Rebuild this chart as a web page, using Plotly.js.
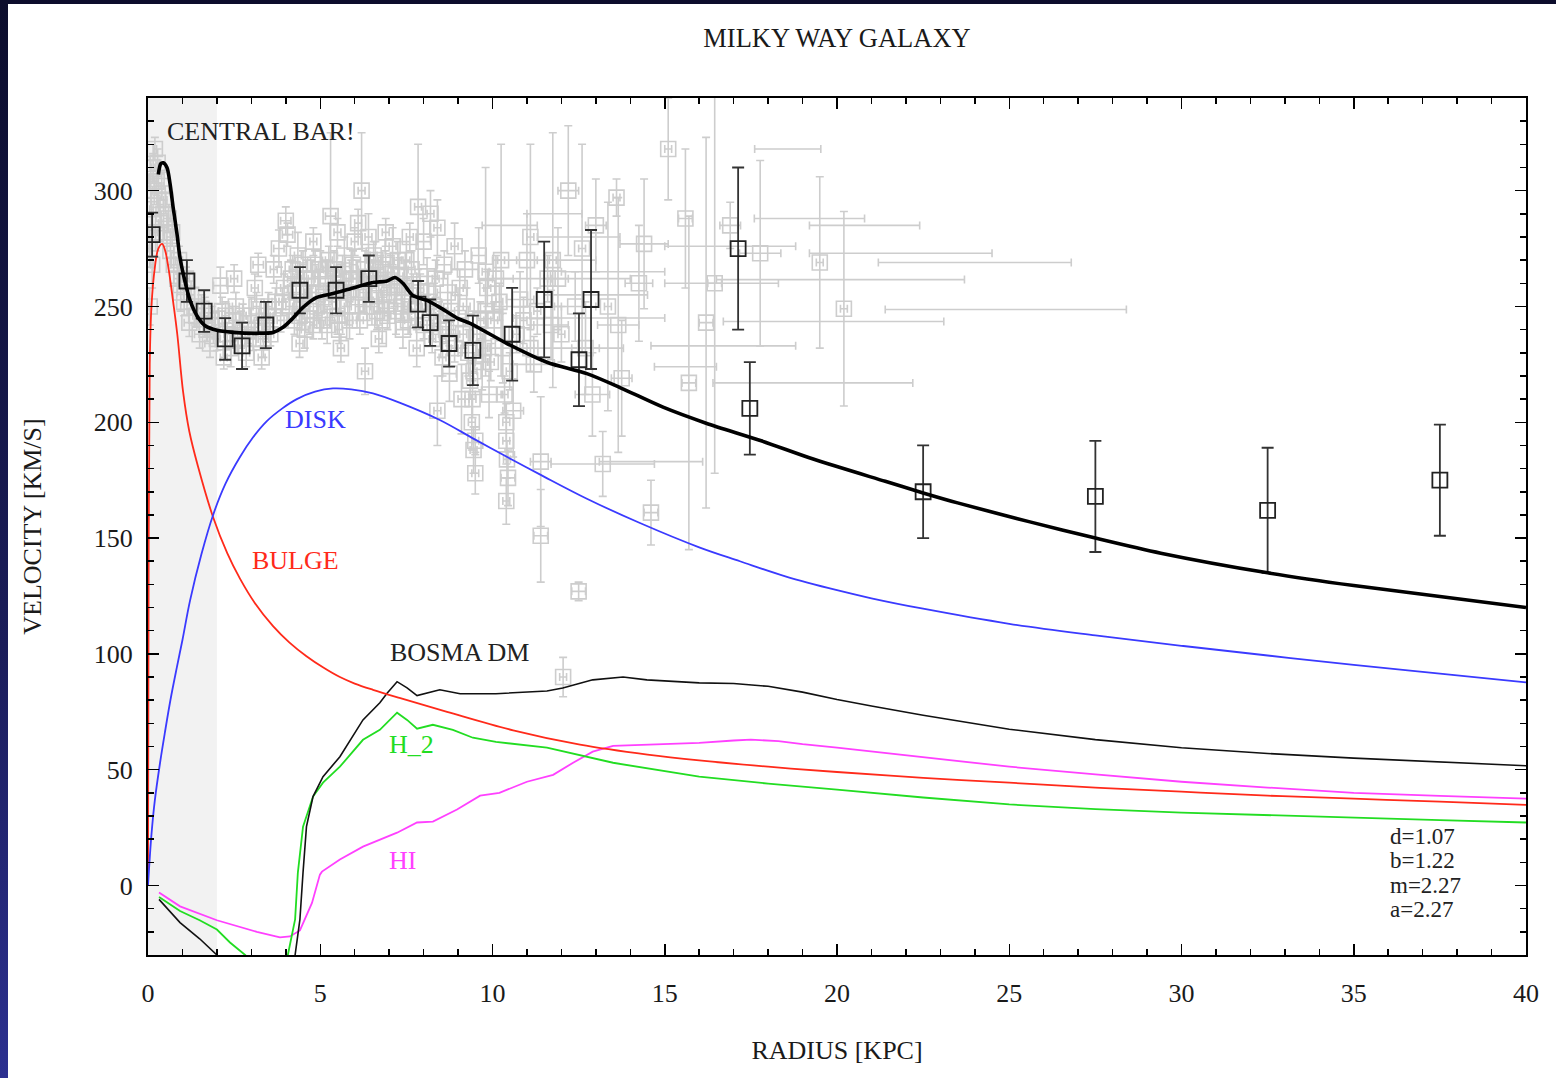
<!DOCTYPE html>
<html><head><meta charset="utf-8">
<script src="https://cdn.plot.ly/plotly-3.0.1.min.js"></script>
<style>
html,body{margin:0;padding:0;width:1556px;height:1078px;overflow:hidden;background:linear-gradient(180deg,#0c0d2c 0%,#1b1d5a 60%,#2c3090 100%);}
#chart{position:absolute;left:8px;top:4px;width:1548px;height:1074px;background:#fff;}
</style></head><body><div id="chart"></div><script>
// Gray literature data points (with squares)
const gx = [0.05,0.1,0.15,0.2,0.25,0.3,0.35,0.12,0.45,0.55,0.65,0.75,0.85,0.95,1.05,1.2,1.35,1.5,1.65,1.8,1.95,
 2.1,2.25,2.4,2.55,2.7,2.85,3.0,3.2,3.35,3.5,3.65,3.8,3.9,4.0,4.05,4.15,4.25,4.35,4.45,4.6,4.7,4.85,4.95,5.05,5.15,5.3,
 5.4,5.5,5.6,5.7,5.8,5.9,6.0,6.1,6.2,6.3,6.3,6.4,6.5,6.6,6.7,6.8,6.9,7.0,7.1,7.2,7.3,7.4,7.5,7.6,7.7,7.84,8.0,8.4,8.1,
 8.3,8.5,8.4,8.75,8.7,9.0,9.1,9.2,9.3,9.4,9.45,9.5,9.6,9.7,9.8,9.9,8.6,10.1,10.3,10.4,10.45,10.4,10.6,10.8,11.0,11.2,
 11.4,11.4,11.7,11.9,12.2,12.5,12.05,12.4,12.7,13.0,13.2,12.9,13.6,13.65,13.75,14.25,14.4,14.6,15.1,15.6,15.7,16.2,16.45,
 16.9,17.77,19.5,20.2];
const gy = [250,292,310,318,304,296,286,268,290,282,274,268,262,256,252,243,250,238,246,234,242,
 259,246,232,250,240,230,246,268,236,250,266,275,252,287,281,262,244,272,252,262,248,268,256,244,262,289,
 266,246,258,272,250,262,278,254,300,266,222,280,250,270,260,244,268,255,276,248,263,240,270,252,258,293,278,284,263,
 250,238,205,221,256,245,210,266,230,200,188,178,272,226,248,212,268,262,232,192,176,166,205,253,270,225,
 183,151,242,262,300,127,90,250,232,285,182,212,297,242,219,260,277,161,318,288,217,243,260,
 285,273,269,249];
const gex = [0.05,0.05,0.05,0.05,0.05,0.05,0.05,0.05,0.1,0.1,0.1,0.1,0.1,0.1,0.1,0.15,0.1,0.15,0.1,0.15,0.1,
 0.2,0.1,0.15,0.1,0.15,0.1,0.15,0.15,0.15,0.1,0.1,0.15,0.1,0.15,0.15,0.1,0.15,0.1,0.2,0.15,0.2,0.1,0.2,0.1,0.2,0.15,
 0.1,0.2,0.1,0.2,0.1,0.2,0.1,0.2,0.1,0.2,0.1,0.1,0.2,0.2,0.1,0.2,0.1,0.2,0.1,0.2,0.1,0.2,0.1,0.2,0.3,0.1,0.2,0.1,0.3,
 0.2,0.3,0.1,0.2,0.3,0.3,0.1,0.4,0.3,0.1,0.1,0.1,0.2,0.2,0.5,0.4,0.2,0.5,0.4,0.1,0.2,0.1,0.3,0.4,0.3,0.6,
 0.3,0.2,0.5,0.3,0.3,0.2,0.1,0.6,0.4,0.3,1.5,0.5,0.1,0.6,0.3,0.4,0.7,0.2,0.1,0.2,0.2,0.2,0.2,
 0.3,0.6,0.1,0.1];
const gey = [8,8,6,5,6,6,8,10,6,6,6,8,6,8,6,6,8,6,8,6,6,
 8,6,8,6,8,6,8,5,8,6,6,8,6,6,5,8,6,10,10,8,10,6,10,8,8,36,
 8,8,10,8,8,8,6,10,25,8,10,10,8,8,8,10,6,8,8,10,8,8,8,8,6,27,10,12,8,
 10,10,15,12,8,10,15,8,10,12,10,9,12,12,10,10,6,10,15,10,12,10,20,12,20,12,
 28,20,15,22,28,4,8.5,15,20,20,14,18,8,55,25,25,28,14,22,30,72,80,82,
 10,40,37,42];
// Dense band of gray points along the rotation curve
const bandX = [0.08,0.18,0.28,0.4,0.5,0.6,0.7,0.22,0.05,0.9,
 1.1,1.25,1.4,1.55,1.7,1.85,2.0,2.15,2.3,2.45,2.6,2.75,2.9,3.05,3.15,3.3,3.45,3.55,3.7,3.85,3.95,
 4.1,4.2,4.3,4.4,4.5,4.55,4.65,4.75,4.8,4.9,5.0,5.1,5.2,5.25,5.35,5.45,5.55,5.65,5.75,5.85,5.95,
 6.05,6.15,6.25,6.35,6.45,6.55,6.65,6.75,6.85,6.95,7.05,7.15,7.25,7.35,7.45,7.55,7.65,7.75,
 7.9,8.0,8.15,8.25,8.35,8.45,8.55,8.65,8.8,8.9,9.05,9.15,9.25,9.35,9.42,9.45,9.5,9.55,9.65,9.75,9.85,9.95,
 10.05,10.2,10.35,10.4,10.42,10.5,10.7,10.9,11.1,11.3,11.6,12.0,
 4.8,5.5,6.1,6.9,7.6,3.1,2.5,8.2,8.9,2.2,3.3,4.4,5.6,6.7,7.8,
 9.8,10.25,11.1,11.75,12.6,13.35];
const bandY = [305,300,312,302,296,288,282,282,275,270,
 262,255,246,249,240,244,236,248,238,244,236,246,240,236,250,242,246,238,252,244,258,
 250,266,256,246,268,240,256,262,242,250,266,254,242,270,252,260,240,264,256,244,268,
 262,244,256,250,262,272,248,266,256,246,264,256,270,250,258,244,266,248,
 256,242,252,236,262,246,228,240,248,232,258,238,250,218,210,222,192,238,244,232,258,226,
 244,252,212,200,184,222,238,244,232,248,262,238,
 278,282,286,282,280,258,262,290,276,228,228,234,232,236,232,
 265,270,280,270,275,250];
const bandEX = [0.05,0.05,0.05,0.05,0.05,0.05,0.05,0.05,0.05,0.1,
 0.1,0.1,0.1,0.1,0.1,0.1,0.1,0.1,0.1,0.1,0.1,0.1,0.1,0.1,0.1,0.1,0.1,0.1,0.1,0.1,0.1,
 0.1,0.1,0.1,0.1,0.1,0.1,0.1,0.1,0.1,0.1,0.1,0.1,0.1,0.1,0.1,0.1,0.1,0.1,0.1,0.1,0.1,
 0.1,0.1,0.1,0.1,0.1,0.1,0.1,0.1,0.1,0.1,0.1,0.1,0.1,0.1,0.1,0.1,0.1,0.1,
 0.1,0.1,0.1,0.1,0.1,0.1,0.1,0.1,0.1,0.1,0.1,0.1,0.1,0.1,0.1,0.1,0.1,0.1,0.1,0.1,0.1,0.1,
 0.1,0.1,0.1,0.1,0.1,0.1,0.1,0.1,0.1,0.1,0.1,0.1,
 0.1,0.1,0.1,0.1,0.1,0.1,0.1,0.1,0.1,0.1,0.1,0.1,0.1,0.1,0.1,
 0.1,0.1,0.1,0.1,0.1,0.1];
const bandEY = [8,6,6,6,6,6,6,8,8,6,
 5,6,5,6,5,6,5,6,5,6,6,5,6,5,6,5,6,5,6,5,6,
 6,6,8,6,6,8,6,8,6,6,8,6,8,6,8,6,6,8,6,8,6,
 8,6,8,6,8,6,8,6,8,6,8,6,8,6,8,6,8,6,
 8,6,8,6,8,6,8,6,8,6,8,6,8,8,8,6,6,8,8,6,8,8,
 8,8,8,8,8,8,8,10,10,10,10,12,
 6,6,6,6,6,6,6,10,10,5,5,6,6,6,8,
 45,50,40,55,45,45];
// Gray error bars whose squares are not visible
const bx = [18.57,19.2,20.8,16.9,21.85,24.0,20.1,16.65,24.9,19.9,16.7,15.6,19.3,14.6,
 11.5,12.0,12.5,11.0,13.0,10.5,12.8,11.8,12.3,13.5];
const by = [318,288,285,276,273,269,261.6,260,248.7,243.5,233,224,217,183,
 270,262,280,250,255,285,245,290,232,265];
const bex = [0.96,1.6,1.6,1.9,2.65,2.8,3.6,1.65,3.5,3.2,2.1,0.9,2.9,1.5,
 1.5,2.0,1.2,1.0,1.5,0.8,2.2,0.8,1.5,1.5];
// Highlighted (binned) data points
const ptX = [0.12,1.13,1.63,2.24,2.73,3.42,4.41,5.46,6.41,7.84,8.19,8.74,9.43,10.57,11.5,12.51,12.86,17.13,17.47,22.5,27.5,32.5,37.5];
const ptY = [281,261,248,236,233,242,257,257,262,251,243,234,231,238,253,227,253,275,206,170,168,162,175];
const ptE = [9.5,9,9,9,10,10,10,10,10,10,10,10,15,20,25,20,30,35,20,20,24,27,24];
// Model curves
const totalX = [0.3,0.37,0.44,0.55,0.64,0.73,0.84,0.93,1.07,1.22,1.42,1.65,2.0,2.47,3.16,3.63,3.92,4.21,4.5,4.9,5.37,5.95,6.53,6.94,7.17,7.4,7.69,8.1,8.47,8.97,9.35,10.42,11.58,12.74,13.7,14.95,16.2,17.8,19.33,21.4,22.5,23.5,25.6,27.5,29.4,32.5,35,37.5,40];
const totalY = [307,311.6,312,310,303,292.7,281.5,271,261,252.6,246,241.8,239.7,238.8,238.4,238.8,241,245,249.6,253.9,255.6,258,260.3,261,262.5,260,254.7,252.6,249.6,245,242.7,234,225.9,221,215,206.5,199.6,192,184,174.5,169.5,165.2,157,150,143.5,135,129.5,124.8,120];
const bulgeX = [0,0.02,0.05,0.1,0.2,0.3,0.41,0.5,0.6,0.73,0.85,1.02,1.2,1.45,1.89,2.3,2.67,3.1,3.63,4.1,4.6,5.1,5.57,6.0,6.53,7.3,8.68,10.6,12.54,14.5,16.0,18,20,22.5,25,27.5,30,32.5,35,37.5,40];
const bulgeY = [0,150,225,250,267,275,277,274,266,252,238,213,196,181,159,143.5,132.5,122,112,105,99,94,90,87.2,84.5,81,75,67,60.8,56.5,54,51.3,49,46.5,44.4,42.3,40.5,38.8,37.5,36.2,34.8];
const diskX = [0,0.1,0.2,0.35,0.49,0.65,0.84,1.0,1.22,1.55,1.89,2.25,2.67,3.05,3.45,3.9,4.32,4.85,5.37,5.9,6.53,7.3,8.47,9.5,10.6,11.4,12.74,14.28,16.0,17.18,18.5,20,21,22.5,25,27.5,30,32.5,35,37.5,40];
const diskY = [0,22,37,53,66,80,94.4,106,123,143,160,173.5,185,193.5,200.5,206,210,213.2,214.6,214.2,212.5,208.5,201,192.5,183.6,177.3,167,156.5,146,140,133.5,127.5,124,119.5,113,108,103.5,99.3,95.3,91.5,87.7];
const dmX = [0.32,0.93,1.5,2.0,2.3,4.0,4.27,4.41,4.5,4.6,4.79,5.08,5.57,6.24,6.73,6.94,7.23,7.52,7.81,8.1,8.47,9.06,10.1,11.58,12.04,12.91,13.79,14.48,15,16,17,18,19,20,21,22.5,25,27.5,30,32.5,35,37.5,40];
const dmY = [-6,-16,-23,-30,-36,-40,-30,-14.6,5.6,25.4,38.4,47,55.6,71.5,78.9,83,88,85.3,82,83,84.5,82.8,82.8,84,85.3,88.8,90,88.8,88.3,87.5,87.2,86,83.5,80.3,77.5,73.5,67.5,63,59.5,57,55,53.3,51.7];
const h2X = [0.32,0.93,1.5,2.0,2.38,2.82,3.3,3.95,4.06,4.27,4.35,4.5,4.79,5.08,5.57,6.24,6.73,7.02,7.23,7.52,7.81,8.27,8.85,9.43,10.1,11.58,13.5,16.0,18,20,22.5,25,27.5,30,32.5,35,37.5,40];
const h2Y = [-5,-11,-15,-19,-24.6,-30,-37,-45,-30,-14.6,5.6,25.4,38.4,44.4,51.3,62.9,67.2,71.5,74.6,71.5,67.7,69.4,67.2,63.8,62,59.5,53,47,44,41.4,38,35,33,31.5,30.3,29.3,28.2,27.2];
const hiX = [0.32,0.93,2.0,3.16,3.83,4.12,4.41,4.56,4.76,4.99,5.05,5.57,6.24,7.23,7.81,8.27,8.97,9.64,10.2,11.0,11.76,12.34,12.91,13.5,14.48,16.0,17.0,17.5,18.3,19,20,21,22.5,25,27.5,30,32.5,35,37.5,40];
const hiY = [-3,-9,-15,-20,-22.4,-22,-19.4,-14.6,-7.5,4.7,6,11.2,16.8,22.8,27.2,27.6,32.8,38.8,40,44.8,47.8,53,57.8,60.3,60.8,61.6,62.6,63,62.3,61,59.5,57.8,55.3,51.3,48,44.8,42.3,40,38.7,37.5];
const paramLines = ['d=1.07','b=1.22','m=2.27','a=2.27'];
const paramY = [21.0,10.6,0.2,-10.2];

const GRAY = '#cdcdcd';
const grayMarker = {symbol:'square-open', size:15, color:GRAY, line:{width:1.6, color:GRAY}};
const traces = [
 {x:bx, y:by, type:'scatter', mode:'markers', marker:{size:1, color:'rgba(0,0,0,0)'},
  error_x:{type:'data', array:bex, visible:true, color:GRAY, thickness:1.6, width:4}, hoverinfo:'skip'},
 {x:bandX, y:bandY, type:'scatter', mode:'markers', marker:grayMarker,
  error_x:{type:'data', array:bandEX, visible:true, color:GRAY, thickness:1.6, width:4},
  error_y:{type:'data', array:bandEY, visible:true, color:GRAY, thickness:1.6, width:4}},
 {x:gx, y:gy, type:'scatter', mode:'markers', marker:grayMarker,
  error_x:{type:'data', array:gex, visible:true, color:GRAY, thickness:1.6, width:4},
  error_y:{type:'data', array:gey, visible:true, color:GRAY, thickness:1.6, width:4}},
 {x:hiX, y:hiY, type:'scatter', mode:'lines', line:{color:'#ff40ff', width:1.8}},
 {x:h2X, y:h2Y, type:'scatter', mode:'lines', line:{color:'#22dd22', width:1.8}},
 {x:dmX, y:dmY, type:'scatter', mode:'lines', line:{color:'#111', width:1.6}},
 {x:bulgeX, y:bulgeY, type:'scatter', mode:'lines', line:{color:'#ff2a1a', width:1.8, shape:'spline', smoothing:1}},
 {x:diskX, y:diskY, type:'scatter', mode:'lines', line:{color:'#3a3aff', width:1.8, shape:'spline', smoothing:1}},
 {x:ptX, y:ptY, type:'scatter', mode:'markers',
  marker:{symbol:'square-open', size:15, color:'#222', line:{width:1.8, color:'#222'}},
  error_y:{type:'data', array:ptE, visible:true, color:'#333', thickness:1.8, width:6}},
 {x:totalX, y:totalY, type:'scatter', mode:'lines', line:{color:'#000', width:3.6, shape:'spline', smoothing:0.8}}
];

const F = 'Liberation Serif, Times New Roman, serif';
const ann = [
 {x:0.49, y:325.5, text:'CENTRAL BAR!', xanchor:'left', font:{color:'#222', size:26}},
 {x:4.85, y:201, text:'DISK', font:{color:'#3a3aff', size:26}},
 {x:4.27, y:140.5, text:'BULGE', font:{color:'#ff2a1a', size:26}},
 {x:9.03, y:100.5, text:'BOSMA DM', font:{color:'#222', size:26}},
 {x:7.66, y:60.8, text:'H_2', font:{color:'#22dd22', size:26}},
 {x:7.4, y:10.8, text:'HI', font:{color:'#ff40ff', size:26}}
];
paramLines.forEach((t,i)=>ann.push({x:36.0, y:paramY[i], text:t, xanchor:'left', font:{color:'#222', size:23}}));
ann.forEach(a=>{a.xref='x'; a.yref='y'; a.showarrow=false; a.yanchor='middle'; a.font.family=F;});

const axisCommon = {
 ticks:'inside', ticklen:11, tickwidth:1.5, tickcolor:'#000',
 showline:true, linecolor:'#000', linewidth:2, mirror:'allticks',
 showgrid:false, zeroline:false, fixedrange:true
};
const layout = {
 width:1548, height:1074,
 margin:{l:140, r:30, t:94, b:123},
 paper_bgcolor:'#ffffff', plot_bgcolor:'#ffffff',
 font:{family:F, size:26, color:'#1a1a1a'},
 showlegend:false,
 title:{text:'MILKY WAY GALAXY', x:0.5, xref:'paper', xanchor:'center', y:1-34/1074, yref:'container', yanchor:'middle', font:{size:26.5, family:F, color:'#1a1a1a'}},
 xaxis:Object.assign({}, axisCommon, {range:[0,40], tick0:0, dtick:5,
   minor:{dtick:1, ticks:'inside', ticklen:6, tickwidth:1.5, tickcolor:'#000', showgrid:false},
   ticklabelstandoff:14, title:{text:'RADIUS [KPC]', standoff:34, font:{size:26, family:F}}}),
 yaxis:Object.assign({}, axisCommon, {range:[-30,340], tick0:0, dtick:50,
   minor:{dtick:10, ticks:'inside', ticklen:6, tickwidth:1.5, tickcolor:'#000', showgrid:false},
   ticklabelstandoff:8, title:{text:'VELOCITY [KM/S]', standoff:45, font:{size:26, family:F}}}),
 shapes:[{type:'rect', xref:'x', yref:'y', x0:0, x1:2, y0:-30, y1:340, fillcolor:'#f2f2f2', line:{width:0}, layer:'below'}],
 annotations:ann
};
Plotly.newPlot('chart', traces, layout, {displayModeBar:false, staticPlot:true});
</script></body></html>
